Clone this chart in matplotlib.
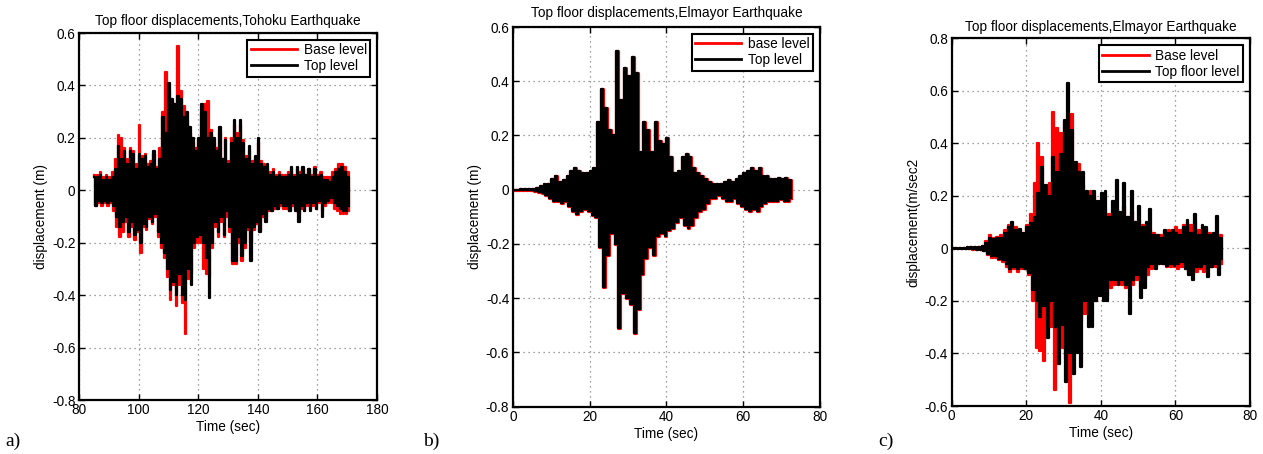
import numpy as np
import matplotlib
matplotlib.use("Agg")
import matplotlib.pyplot as plt
from matplotlib.ticker import FuncFormatter

plt.rcParams['font.family'] = ['Liberation Sans', 'DejaVu Sans']

# ---------------- (a) Tohoku record, 85..170 s, one envelope value per second
t0_a = 85
top_a_up = [0.05, 0.05, 0.06, 0.04, 0.05, 0.04, 0.05, 0.08, 0.17, 0.12,
            0.15, 0.10, 0.15, 0.14, 0.08, 0.14, 0.12, 0.13, 0.09, 0.10,
            0.15, 0.08, 0.12, 0.28, 0.22, 0.41, 0.35, 0.33, 0.36, 0.35,
            0.28, 0.30, 0.24, 0.20, 0.15, 0.20, 0.33, 0.30, 0.20, 0.22,
            0.20, 0.15, 0.24, 0.12, 0.19, 0.10, 0.18, 0.27, 0.20, 0.27,
            0.18, 0.12, 0.17, 0.10, 0.13, 0.20, 0.10, 0.09, 0.10, 0.06,
            0.07, 0.05, 0.06, 0.05, 0.05, 0.06, 0.09, 0.05, 0.09, 0.06,
            0.09, 0.06, 0.08, 0.05, 0.08, 0.05, 0.06, 0.04, 0.04, 0.03,
            0.05, 0.07, 0.08, 0.09, 0.07, 0.05]
top_a_lo = [-0.06, -0.04, -0.05, -0.04, -0.05, -0.04, -0.06, -0.10, -0.14, -0.12,
            -0.10, -0.16, -0.12, -0.17, -0.15, -0.20, -0.13, -0.14, -0.10, -0.12,
            -0.09, -0.16, -0.20, -0.24, -0.30, -0.38, -0.35, -0.40, -0.32, -0.40,
            -0.42, -0.30, -0.36, -0.20, -0.18, -0.17, -0.20, -0.26, -0.41, -0.20,
            -0.12, -0.16, -0.10, -0.17, -0.08, -0.14, -0.27, -0.27, -0.18, -0.25,
            -0.20, -0.14, -0.27, -0.14, -0.12, -0.16, -0.09, -0.12, -0.07, -0.08,
            -0.06, -0.07, -0.05, -0.06, -0.06, -0.08, -0.05, -0.08, -0.12, -0.06,
            -0.08, -0.05, -0.08, -0.05, -0.07, -0.04, -0.10, -0.05, -0.04, -0.03,
            -0.05, -0.06, -0.07, -0.08, -0.08, -0.06]
base_a_up = [0.06, 0.06, 0.07, 0.05, 0.06, 0.05, 0.07, 0.12, 0.21, 0.20,
             0.16, 0.12, 0.16, 0.15, 0.10, 0.25, 0.13, 0.14, 0.10, 0.11,
             0.14, 0.09, 0.16, 0.30, 0.45, 0.38, 0.34, 0.30, 0.55, 0.38,
             0.32, 0.27, 0.22, 0.18, 0.16, 0.19, 0.30, 0.33, 0.34, 0.23,
             0.18, 0.16, 0.22, 0.12, 0.20, 0.11, 0.20, 0.25, 0.22, 0.25,
             0.19, 0.13, 0.15, 0.11, 0.12, 0.18, 0.11, 0.10, 0.09, 0.07,
             0.08, 0.06, 0.07, 0.06, 0.06, 0.07, 0.08, 0.06, 0.08, 0.07,
             0.08, 0.06, 0.08, 0.06, 0.09, 0.06, 0.07, 0.05, 0.05, 0.05,
             0.07, 0.08, 0.10, 0.10, 0.09, 0.07]
base_a_lo = [-0.06, -0.05, -0.06, -0.05, -0.06, -0.05, -0.08, -0.14, -0.18, -0.16,
             -0.12, -0.18, -0.14, -0.19, -0.16, -0.24, -0.14, -0.15, -0.11, -0.13,
             -0.10, -0.18, -0.22, -0.26, -0.33, -0.42, -0.36, -0.44, -0.36, -0.43,
             -0.55, -0.34, -0.32, -0.22, -0.20, -0.20, -0.30, -0.32, -0.33, -0.22,
             -0.14, -0.18, -0.12, -0.18, -0.10, -0.16, -0.28, -0.28, -0.20, -0.27,
             -0.22, -0.15, -0.20, -0.15, -0.13, -0.15, -0.10, -0.11, -0.08, -0.08,
             -0.07, -0.07, -0.06, -0.07, -0.07, -0.08, -0.06, -0.07, -0.09, -0.07,
             -0.08, -0.06, -0.07, -0.06, -0.07, -0.05, -0.08, -0.06, -0.05, -0.05,
             -0.07, -0.08, -0.09, -0.09, -0.09, -0.08]

# ---------------- (b) El Mayor record, 0..72 s (base and top coincide)
t0_b = 0
top_b_up = [0.0, 0.0, 0.001, 0.002, 0.002, 0.004, 0.008, 0.012, 0.02, 0.02,
            0.04, 0.05, 0.03, 0.035, 0.05, 0.07, 0.08, 0.07, 0.06, 0.06,
            0.07, 0.08, 0.25, 0.37, 0.30, 0.22, 0.20, 0.51, 0.33, 0.45,
            0.42, 0.49, 0.43, 0.14, 0.25, 0.22, 0.14, 0.25, 0.18, 0.17,
            0.19, 0.12, 0.06, 0.07, 0.12, 0.13, 0.12, 0.08, 0.06, 0.05,
            0.04, 0.03, 0.02, 0.02, 0.02, 0.03, 0.035, 0.03, 0.04, 0.05,
            0.06, 0.07, 0.08, 0.07, 0.08, 0.05, 0.05, 0.04, 0.04, 0.045,
            0.04, 0.045, 0.035]
top_b_lo = [0.0, 0.0, -0.001, -0.002, -0.002, -0.004, -0.008, -0.012, -0.02, -0.03,
            -0.04, -0.04, -0.05, -0.04, -0.06, -0.08, -0.09, -0.08, -0.07, -0.08,
            -0.095, -0.10, -0.21, -0.36, -0.24, -0.16, -0.20, -0.51, -0.38, -0.40,
            -0.42, -0.53, -0.44, -0.31, -0.25, -0.21, -0.24, -0.17, -0.16, -0.17,
            -0.15, -0.14, -0.12, -0.10, -0.13, -0.14, -0.13, -0.10, -0.08, -0.07,
            -0.05, -0.03, -0.03, -0.02, -0.03, -0.04, -0.04, -0.03, -0.05, -0.06,
            -0.07, -0.08, -0.07, -0.08, -0.06, -0.05, -0.04, -0.04, -0.04, -0.035,
            -0.04, -0.04, -0.03]
base_b_up = top_b_up
base_b_lo = top_b_lo

# ---------------- (c) El Mayor record, 0..72 s
t0_c = 0
top_c_up = [0.002, 0.002, 0.003, 0.003, 0.004, 0.004, 0.005, 0.006, 0.008, 0.02,
            0.04, 0.035, 0.04, 0.04, 0.06, 0.08, 0.10, 0.07, 0.075, 0.06,
            0.08, 0.095, 0.12, 0.21, 0.31, 0.24, 0.20, 0.35, 0.29, 0.36,
            0.49, 0.63, 0.45, 0.33, 0.29, 0.29, 0.22, 0.20, 0.22, 0.18,
            0.21, 0.22, 0.12, 0.18, 0.26, 0.14, 0.25, 0.12, 0.22, 0.10,
            0.16, 0.08, 0.10, 0.15, 0.05, 0.05, 0.04, 0.07, 0.06, 0.07,
            0.06, 0.05, 0.08, 0.11, 0.06, 0.13, 0.05, 0.09, 0.08, 0.05,
            0.06, 0.125, 0.04]
top_c_lo = [-0.002, -0.002, -0.003, -0.003, -0.004, -0.004, -0.005, -0.006, -0.008, -0.02,
            -0.03, -0.03, -0.04, -0.045, -0.06, -0.08, -0.07, -0.08, -0.07, -0.08,
            -0.095, -0.16, -0.20, -0.26, -0.22, -0.34, -0.20, -0.30, -0.44, -0.29,
            -0.51, -0.40, -0.48, -0.40, -0.45, -0.20, -0.30, -0.30, -0.20, -0.18,
            -0.20, -0.20, -0.12, -0.12, -0.14, -0.12, -0.14, -0.25, -0.12, -0.10,
            -0.19, -0.15, -0.07, -0.06, -0.08, -0.06, -0.06, -0.065, -0.06, -0.065,
            -0.06, -0.05, -0.08, -0.10, -0.12, -0.07, -0.07, -0.06, -0.11, -0.07,
            -0.06, -0.10, -0.04]
base_c_up = [0.002, 0.002, 0.003, 0.003, 0.004, 0.005, 0.006, 0.007, 0.01, 0.03,
             0.05, 0.04, 0.045, 0.05, 0.07, 0.09, 0.09, 0.08, 0.07, 0.06,
             0.09, 0.13, 0.25, 0.40, 0.35, 0.22, 0.25, 0.52, 0.46, 0.44,
             0.48, 0.35, 0.51, 0.32, 0.32, 0.24, 0.20, 0.22, 0.20, 0.17,
             0.18, 0.15, 0.13, 0.14, 0.15, 0.13, 0.16, 0.12, 0.14, 0.10,
             0.11, 0.09, 0.08, 0.07, 0.06, 0.05, 0.05, 0.06, 0.07, 0.06,
             0.08, 0.07, 0.09, 0.10, 0.09, 0.10, 0.07, 0.08, 0.07, 0.06,
             0.05, 0.06, 0.05]
base_c_lo = [-0.002, -0.002, -0.003, -0.003, -0.004, -0.005, -0.006, -0.007, -0.01, -0.025,
             -0.035, -0.035, -0.045, -0.05, -0.07, -0.09, -0.08, -0.09, -0.08, -0.08,
             -0.10, -0.20, -0.38, -0.39, -0.43, -0.25, -0.30, -0.54, -0.33, -0.38,
             -0.42, -0.59, -0.40, -0.30, -0.28, -0.25, -0.20, -0.18, -0.20, -0.17,
             -0.19, -0.18, -0.15, -0.14, -0.13, -0.14, -0.15, -0.13, -0.14, -0.12,
             -0.15, -0.12, -0.10, -0.08, -0.07, -0.06, -0.06, -0.07, -0.07, -0.07,
             -0.08, -0.07, -0.08, -0.09, -0.10, -0.09, -0.08, -0.09, -0.08, -0.07,
             -0.07, -0.08, -0.06]

titles = ["Top floor displacements,Tohoku Earthquake",
          "Top floor displacements,Elmayor Earthquake",
          "Top floor displacements,Elmayor Earthquake"]
ylabels = ["displacement (m)", "displacement (m)", "displacement(m/sec2"]
legend_labels = [("Base level", "Top level"),
                 ("base level", "Top level"),
                 ("Base level", "Top floor level")]
panel_tags = ["a)", "b)", "c)"]
xlims = [(80, 180), (0, 80), (0, 80)]
xticks = [[80, 100, 120, 140, 160, 180], [0, 20, 40, 60, 80], [0, 20, 40, 60, 80]]
ylims = [(-0.8, 0.6), (-0.8, 0.6), (-0.6, 0.8)]
yticks = [[-0.8, -0.6, -0.4, -0.2, 0, 0.2, 0.4, 0.6],
          [-0.8, -0.6, -0.4, -0.2, 0, 0.2, 0.4, 0.6],
          [-0.6, -0.4, -0.2, 0, 0.2, 0.4, 0.6, 0.8]]


def trace(t0, up, lo):
    """Alternate each second's positive and negative swing into one record."""
    n = len(up)
    t = np.repeat(t0 + np.arange(n, dtype=float), 2)
    t[1::2] += 0.5
    y = np.empty(2 * n)
    y[0::2] = up
    y[1::2] = lo
    return t, y


series = [
    (t0_a, base_a_up, base_a_lo, top_a_up, top_a_lo),
    (t0_b, base_b_up, base_b_lo, top_b_up, top_b_lo),
    (t0_c, base_c_up, base_c_lo, top_c_up, top_c_lo),
]

fig = plt.figure(figsize=(12.63, 4.54), dpi=100)
rects = [[0.0625, 0.1189, 0.2360, 0.8084],
         [0.4060, 0.1042, 0.2433, 0.8363],
         [0.7535, 0.1057, 0.2362, 0.8099]]
title_pads = [6, 7, 5]
tag_pos = [(0.004, 0.018), (0.335, 0.018), (0.695, 0.018)]
FS = 9.8

fmt = FuncFormatter(lambda v, p: "%g" % round(v, 2))

for i, rect in enumerate(rects):
    ax = fig.add_axes(rect)
    t0, bu, bl, tu, tl = series[i]
    tb, yb = trace(t0, bu, bl)
    tt, yt = trace(t0, tu, tl)
    red_lw = 2.3 if i == 1 else 1.6
    ax.plot(tb, yb, color="#ff0000", lw=red_lw, drawstyle="steps-post",
            label=legend_labels[i][0])
    ax.plot(tt, yt, color="black", lw=1.6, drawstyle="steps-post",
            label=legend_labels[i][1])

    ax.set_xlim(*xlims[i])
    ax.set_ylim(*ylims[i])
    ax.set_xticks(xticks[i])
    ax.set_yticks(yticks[i])
    ax.xaxis.set_major_formatter(fmt)
    ax.yaxis.set_major_formatter(fmt)
    ax.grid(True, linestyle=(0, (1, 3)), color="#808080", lw=0.9)
    ax.tick_params(direction="in", top=True, right=True, length=4, width=1.0,
                   labelsize=FS, pad=2.5)
    for sp in ax.spines.values():
        sp.set_linewidth(1.6)
    ax.set_title(titles[i], fontsize=FS, pad=title_pads[i])
    ax.set_xlabel("Time (sec)", fontsize=FS, labelpad=2)
    ax.set_ylabel(ylabels[i], fontsize=FS, labelpad=3)

    leg = ax.legend(loc="upper right", fontsize=FS, fancybox=False,
                    framealpha=1, edgecolor="black", handlelength=3.4,
                    borderaxespad=0.5, borderpad=0.25, labelspacing=0.15,
                    handletextpad=0.5)
    leg.get_frame().set_linewidth(1.5)
    for ln in leg.get_lines():
        ln.set_linewidth(2.0)

    fig.text(tag_pos[i][0], tag_pos[i][1], panel_tags[i], fontsize=14,
             family=["Liberation Serif", "DejaVu Serif"], ha="left", va="baseline")

fig.savefig("out.png", dpi=100)
